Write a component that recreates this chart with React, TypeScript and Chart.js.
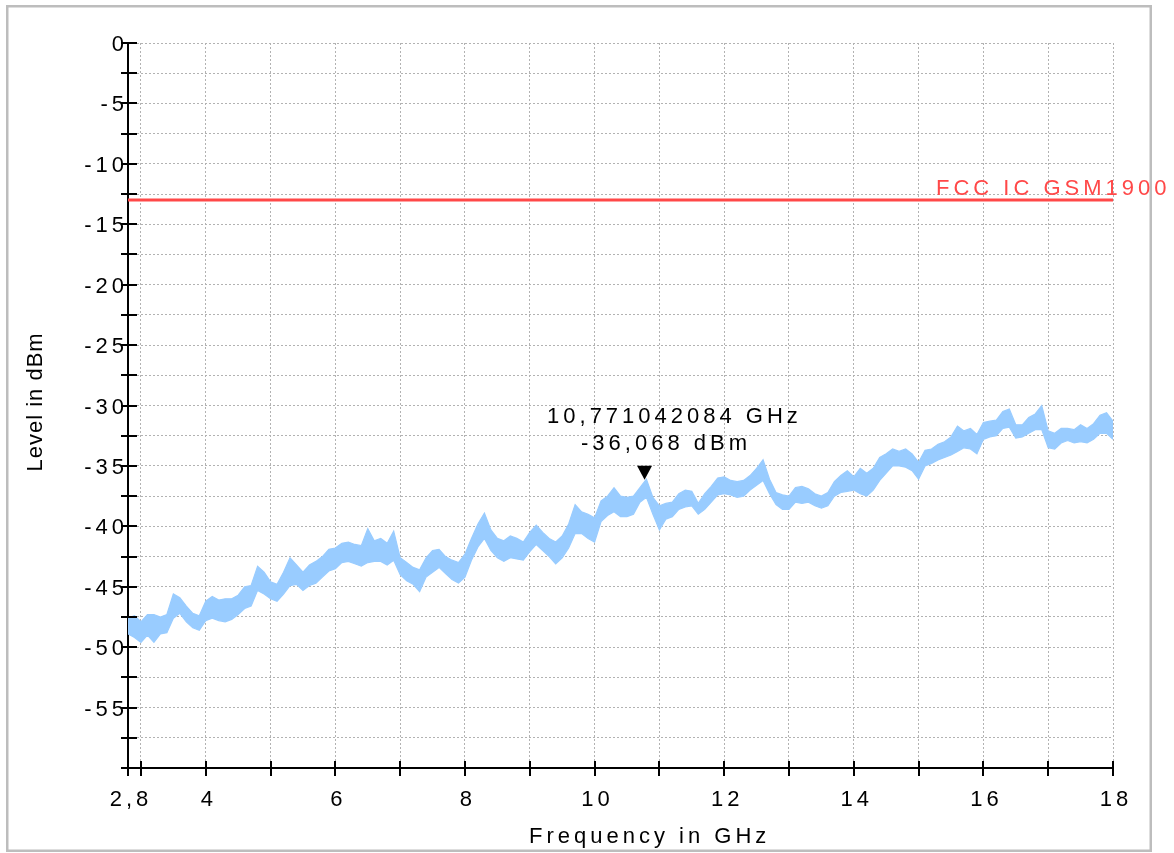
import React, { useEffect, useRef } from "react";
import { Chart, registerables } from "chart.js";

Chart.register(...registerables);

// Sweep points of the measured trace (GHz) with the upper and lower edge of the noise band (dBm)
const traceFreqGHz = [
  2.8, 2.9, 3.0, 3.1, 3.2, 3.3, 3.4, 3.5, 3.6, 3.7, 3.8, 3.9,
  4.0, 4.1, 4.2, 4.3, 4.4, 4.5, 4.6, 4.7, 4.8, 4.9,
  5.0, 5.1, 5.2, 5.3, 5.4, 5.5, 5.6, 5.7, 5.8, 5.9,
  6.0, 6.1, 6.2, 6.3, 6.4, 6.5, 6.6, 6.7, 6.8, 6.9,
  7.0, 7.1, 7.2, 7.3, 7.4, 7.5, 7.6, 7.7, 7.8, 7.9,
  8.0, 8.1, 8.2, 8.3, 8.4, 8.5, 8.6, 8.7, 8.8, 8.9,
  9.0, 9.1, 9.2, 9.3, 9.4, 9.5, 9.6, 9.7, 9.8, 9.9,
  10.0, 10.1, 10.2, 10.3, 10.4, 10.5, 10.6, 10.7, 10.8, 10.9,
  11.0, 11.1, 11.2, 11.3, 11.4, 11.5, 11.6, 11.7, 11.8, 11.9,
  12.0, 12.1, 12.2, 12.3, 12.4, 12.5, 12.6, 12.7, 12.8, 12.9,
  13.0, 13.1, 13.2, 13.3, 13.4, 13.5, 13.6, 13.7, 13.8, 13.9,
  14.0, 14.1, 14.2, 14.3, 14.4, 14.5, 14.6, 14.7, 14.8, 14.9,
  15.0, 15.1, 15.2, 15.3, 15.4, 15.5, 15.6, 15.7, 15.8, 15.9,
  16.0, 16.1, 16.2, 16.3, 16.4, 16.5, 16.6, 16.7, 16.8, 16.9,
  17.0, 17.1, 17.2, 17.3, 17.4, 17.5, 17.6, 17.7, 17.8, 17.9,
  18.0,
];

const traceUpperDbm = [
  -47.6, -47.4, -47.9, -47.3, -47.3, -47.5, -47.3, -45.6, -45.9, -46.6, -47.2, -47.4,
  -46.2, -45.8, -46.1, -46.0, -46.0, -45.7, -45.0, -44.9, -43.3, -43.8,
  -44.6, -44.8, -43.8, -42.6, -43.2, -43.8, -43.2, -42.9, -42.5, -41.9,
  -41.8, -41.4, -41.3, -41.5, -41.6, -40.2, -41.2, -41.0, -41.4, -40.4,
  -42.6, -43.0, -43.4, -43.6, -42.6, -42.0, -41.9, -42.5, -42.8, -43.0,
  -42.3, -41.0, -39.8, -38.9, -40.3, -41.0, -41.2, -40.8, -41.0, -41.3,
  -40.5, -39.9, -40.5, -41.0, -41.3, -40.8, -39.8, -38.2, -38.8, -39.0,
  -39.3, -37.9, -37.5, -36.8, -37.5, -37.6, -37.5, -36.8, -36.1, -37.6,
  -38.3, -38.1, -38.0, -37.3, -37.0, -37.1, -38.1, -37.3, -36.7, -36.0,
  -35.9, -36.2, -36.3, -36.2, -35.8, -35.2, -34.5, -36.1, -37.2, -37.4,
  -37.5, -36.8, -36.7, -36.9, -37.3, -37.5, -37.2, -36.3, -35.8, -35.4,
  -35.9, -35.2, -35.6, -35.2, -34.3, -34.0, -33.6, -33.8, -33.6, -34.0,
  -34.7, -33.7, -33.6, -33.2, -33.0, -32.6, -31.7, -32.1, -31.9, -32.4,
  -31.4, -31.3, -31.2, -30.5, -30.3, -31.6, -31.6, -31.0, -30.7, -30.0,
  -32.1, -32.3, -31.9, -31.9, -32.0, -31.6, -31.9, -31.5, -30.8, -30.6,
  -31.3,
];

const traceLowerDbm = [
  -48.9, -49.2, -49.6, -49.0, -49.6, -48.9, -48.8, -47.6, -47.2, -47.9, -48.4, -48.6,
  -47.8, -47.6, -47.8, -47.9, -47.7, -47.3, -46.8, -46.6, -45.3, -45.6,
  -46.0, -46.2, -45.6, -44.9, -44.8, -45.3, -44.9, -44.7, -44.2, -43.7,
  -43.5, -43.0, -42.9, -43.1, -43.3, -43.0, -42.9, -42.9, -43.2, -42.8,
  -44.0, -44.5, -44.8, -45.4, -44.2, -43.8, -43.4, -43.9, -44.4, -44.7,
  -44.2, -42.8, -41.7, -41.0, -42.0, -42.6, -42.9, -42.6, -42.7, -42.8,
  -42.1, -41.5, -42.0, -42.5, -43.1, -42.6, -41.8, -40.6, -40.6, -41.0,
  -41.3, -39.6, -39.1, -38.8, -39.2, -39.2, -39.0, -38.0, -37.6, -39.0,
  -40.3, -39.4, -39.2, -38.6, -38.4, -38.3, -39.0, -38.6, -38.0, -37.4,
  -37.3, -37.4, -37.6, -37.5, -37.0, -36.6, -36.2, -37.3, -38.2, -38.6,
  -38.6, -38.0, -38.1, -38.0, -38.3, -38.5, -38.3, -37.5, -37.2, -37.1,
  -37.0, -37.3, -37.5, -37.0, -36.2, -35.6, -35.0, -35.0, -35.1, -35.4,
  -36.1, -35.0, -34.8, -34.5, -34.3, -34.1, -33.8, -33.5, -33.6, -34.0,
  -32.8, -32.6, -32.5, -31.9, -31.8, -32.7, -32.6, -32.3, -32.0, -32.0,
  -33.5, -33.6, -33.1, -32.9, -33.1, -33.0, -33.1, -32.8, -32.3, -32.3,
  -32.8,
];

// Limit line
const limitLabel = "FCC IC GSM1900";
const limitFreqGHz = [2.8, 18];
const limitLevelDbm = [-13, -13];

// Peak marker
const markerFreqGHz = 10.771042084;
const markerLevelDbm = -36.068;

// Axis ticks
const xTickValues = [2.8, 3, 4, 5, 6, 7, 8, 9, 10, 11, 12, 13, 14, 15, 16, 17, 18];
const xTickLabels = ["2,8", "", "4", "", "6", "", "8", "", "10", "", "12", "", "14", "", "16", "", "18"];
const yTickValues = [
  -60, -57.5, -55, -52.5, -50, -47.5, -45, -42.5, -40, -37.5, -35, -32.5, -30,
  -27.5, -25, -22.5, -20, -17.5, -15, -12.5, -10, -7.5, -5, -2.5, 0,
];
const yTickLabels = [
  "", "", "-55", "", "-50", "", "-45", "", "-40", "", "-35", "", "-30",
  "", "-25", "", "-20", "", "-15", "", "-10", "", "-5", "", "0",
];

const xTitle = "Frequency in GHz";
const yTitle = "Level in dBm";

const FONT_FAMILY = '"Liberation Sans", Arial, Helvetica, sans-serif';
const FONT_SIZE = 22;
const LETTER_SPACING = "4px";
const TRACE_COLOR = "#99ccff";
const LIMIT_COLOR = "#ff4848";
const GRID_COLOR = "#b2b2b2";

const decimalComma = (v: number, digits: number) => v.toFixed(digits).replace(".", ",");

const chartDecor = {
  id: "chartDecor",
  beforeUpdate(chart: any) {
    chart.ctx.letterSpacing = LETTER_SPACING;
  },
  beforeDraw(chart: any) {
    const ctx = chart.ctx as CanvasRenderingContext2D;
    (ctx as any).letterSpacing = LETTER_SPACING;
    // outer frame
    ctx.save();
    ctx.strokeStyle = "#bdbdbd";
    ctx.lineWidth = 2.5;
    ctx.strokeRect(7.25, 6.25, 1143.5, 844.5);
    ctx.restore();
  },
  afterDraw(chart: any) {
    const ctx = chart.ctx as CanvasRenderingContext2D;
    const { chartArea } = chart;
    const xs = chart.scales.x;
    const ys = chart.scales.y;

    ctx.save();
    // tick marks crossing the axes
    ctx.strokeStyle = "#000";
    ctx.lineWidth = 2;
    ctx.beginPath();
    for (const v of xTickValues) {
      const px = Math.round(xs.getPixelForValue(v));
      ctx.moveTo(px, chartArea.bottom - 7);
      ctx.lineTo(px, chartArea.bottom + 8);
    }
    for (const v of yTickValues) {
      const py = Math.round(ys.getPixelForValue(v));
      ctx.moveTo(chartArea.left - 7, py);
      ctx.lineTo(chartArea.left + 9, py);
    }
    ctx.stroke();

    ctx.font = `${FONT_SIZE}px ${FONT_FAMILY}`;
    (ctx as any).letterSpacing = LETTER_SPACING;
    ctx.textBaseline = "alphabetic";
    ctx.textAlign = "left";

    // limit line label
    const ly = ys.getPixelForValue(limitLevelDbm[0]);
    ctx.fillStyle = LIMIT_COLOR;
    ctx.fillText(limitLabel, chartArea.right - 177, ly - 5);

    // marker triangle and readout
    const mx = xs.getPixelForValue(markerFreqGHz);
    const my = ys.getPixelForValue(markerLevelDbm);
    ctx.fillStyle = "#000";
    ctx.beginPath();
    ctx.moveTo(mx, my + 1);
    ctx.lineTo(mx - 7.5, my - 13);
    ctx.lineTo(mx + 7.5, my - 13);
    ctx.closePath();
    ctx.fill();
    ctx.fillText(`${decimalComma(markerFreqGHz, 9)} GHz`, mx - 97.5, my - 56);
    ctx.fillText(`${decimalComma(markerLevelDbm, 3)} dBm`, mx - 63.5, my - 29);

    // axis titles
    ctx.fillText(xTitle, chartArea.left + 401, chartArea.bottom + 75);
    (ctx as any).letterSpacing = "1px";
    ctx.translate(chartArea.left - 86, chartArea.bottom - 296.5);
    ctx.rotate(-Math.PI / 2);
    ctx.fillText(yTitle, 0, 0);
    ctx.restore();
  },
};

export default function App() {
  const canvasRef = useRef<HTMLCanvasElement>(null);

  useEffect(() => {
    const canvas = canvasRef.current;
    if (!canvas) return;

    const upper = traceFreqGHz.map((f, i) => ({ x: f, y: traceUpperDbm[i] }));
    const lower = traceFreqGHz.map((f, i) => ({ x: f, y: traceLowerDbm[i] }));
    const limit = limitFreqGHz.map((f, i) => ({ x: f, y: limitLevelDbm[i] }));

    const tickFont = { family: FONT_FAMILY, size: FONT_SIZE };

    const chart = new Chart(canvas, {
      type: "line",
      data: {
        datasets: [
          {
            label: "Trace max",
            data: upper,
            borderColor: TRACE_COLOR,
            backgroundColor: TRACE_COLOR,
            borderWidth: 1.2,
            pointRadius: 0,
            fill: "+1",
            tension: 0,
          },
          {
            label: "Trace min",
            data: lower,
            borderColor: TRACE_COLOR,
            borderWidth: 1.2,
            pointRadius: 0,
            fill: false,
            tension: 0,
          },
          {
            label: limitLabel,
            data: limit,
            borderColor: LIMIT_COLOR,
            borderWidth: 3,
            pointRadius: 0,
            fill: false,
          },
        ],
      },
      options: {
        responsive: false,
        animation: false,
        events: [],
        layout: { padding: { top: 43, right: 61, bottom: 0, left: 0 } },
        plugins: {
          legend: { display: false },
          tooltip: { enabled: false },
        },
        scales: {
          x: {
            type: "linear",
            min: 2.8,
            max: 18,
            afterBuildTicks: (scale: any) => {
              scale.ticks = xTickValues.map((v) => ({ value: v }));
            },
            afterFit: (scale: any) => {
              scale.height = 85;
            },
            ticks: {
              autoSkip: false,
              maxRotation: 0,
              padding: 19,
              labelOffset: 3,
              color: "#000",
              font: tickFont,
              callback: (_v: any, i: number) => xTickLabels[i],
            },
            grid: { color: GRID_COLOR, lineWidth: 1, drawTicks: false },
            border: { display: true, color: "#000", width: 2, dash: [2, 2] },
          },
          y: {
            type: "linear",
            min: -60,
            max: 0,
            afterBuildTicks: (scale: any) => {
              scale.ticks = yTickValues.map((v) => ({ value: v }));
            },
            afterFit: (scale: any) => {
              scale.width = 128;
            },
            ticks: {
              autoSkip: false,
              padding: 0,
              labelOffset: 2,
              color: "#000",
              font: tickFont,
              callback: (_v: any, i: number) => yTickLabels[i],
            },
            grid: { color: GRID_COLOR, lineWidth: 1, drawTicks: false },
            border: { display: true, color: "#000", width: 2, dash: [2, 2] },
          },
        },
      },
      plugins: [chartDecor],
    });

    return () => chart.destroy();
  }, []);

  return (
    <canvas
      ref={canvasRef}
      width={1174}
      height={853}
      style={{ position: "fixed", left: 0, top: 0, width: 1174, height: 853, display: "block" }}
    />
  );
}
